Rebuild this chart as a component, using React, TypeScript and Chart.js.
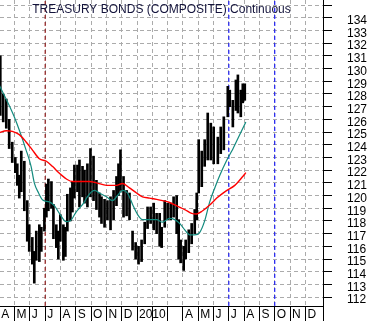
import React, { useEffect, useRef } from 'react';
import { Chart, registerables } from 'chart.js';

Chart.register(...registerables);

const TITLE = 'TREASURY BONDS (COMPOSITE) Continuous';

// x positions are months since 1 Apr 2009
const monthLabels = ['A', 'M', 'J', 'J', 'A', 'S', 'O', 'N', 'D', '2010', '', '', 'A', 'M', 'J', 'J', 'A', 'S', 'O', 'N', 'D'];
const yTickValues = [112, 113, 114, 115, 116, 117, 118, 119, 120, 121, 122, 123, 124, 125, 126, 127, 128, 129, 130, 131, 132, 133, 134, 135];

const barT = [
  0.07, 0.26, 0.46, 0.65, 0.85, 1.05, 1.18, 1.31, 1.44, 1.64, 1.83, 1.96, 2.16, 2.29, 2.42, 2.62, 2.75, 2.95,
  3.08, 3.21, 3.41, 3.54, 3.73, 3.86, 3.99, 4.19, 4.32, 4.45, 4.65, 4.78, 4.91, 5.11, 5.24, 5.44, 5.57, 5.76,
  5.96, 6.16, 6.35, 6.55, 6.68, 6.88, 7.07, 7.27, 7.47, 7.66, 7.79, 7.92, 8.12, 8.32, 8.51, 8.71, 8.91, 9.10,
  9.30, 9.50, 9.69, 9.89, 10.09, 10.28, 10.48, 10.61, 10.81, 11.00, 11.20, 11.39, 11.59, 11.72, 11.85, 12.05,
  12.18, 12.38, 12.57, 12.77, 12.90, 13.03, 13.23, 13.42, 13.62, 13.82, 14.01, 14.28, 14.47, 14.67, 14.93,
  15.06, 15.26, 15.46, 15.59, 15.78, 15.91, 16.04,
];
const barLow = [
  126.3, 125.8, 125.3, 123.7, 122.6, 121.8, 120.8, 119.8, 120.3, 118.8, 116.4, 115.6, 114.6, 113.1, 114.9, 114.8, 115.6, 117.2,
  118.3, 118.8, 119.0, 116.6, 115.9, 115.0, 116.4, 114.9, 115.2, 117.2, 118.0, 118.7, 119.8, 120.3, 119.1, 119.9, 119.4, 119.1,
  119.9, 119.6, 118.9, 118.3, 117.8, 117.5, 118.1, 117.3, 118.1, 119.2, 120.0, 120.4, 118.3, 118.4, 118.1, 115.7, 115.0, 114.6,
  114.8, 116.2, 117.4, 117.8, 117.3, 117.0, 116.0, 115.9, 117.5, 118.1, 118.1, 118.3, 117.0, 115.0, 114.7, 114.1,
  115.0, 115.5, 116.2, 117.0, 118.1, 120.2, 120.7, 122.3, 122.8, 122.8, 122.5, 122.5, 123.3, 123.6, 126.2,
  127.0, 125.4, 126.7, 126.5, 126.2, 127.3, 127.5,
];
const barHigh = [
  131.0, 128.0, 127.6, 126.0, 124.2, 123.0, 122.5, 121.6, 123.5, 122.7, 119.6, 117.7, 116.7, 115.6, 117.2, 117.7, 117.5, 119.0,
  120.9, 121.3, 121.1, 119.3, 117.7, 117.2, 118.5, 117.7, 117.5, 120.1, 120.6, 121.1, 122.4, 122.4, 122.8, 122.3, 122.0, 122.5,
  123.7, 123.1, 121.2, 120.2, 119.9, 119.7, 119.6, 119.9, 120.4, 121.5, 122.5, 123.6, 121.5, 120.4, 120.2, 117.2, 116.3, 116.0,
  116.5, 117.9, 119.1, 119.1, 119.4, 118.6, 118.6, 117.5, 119.6, 119.4, 119.4, 119.9, 120.0, 118.1, 116.5, 116.0,
  116.5, 117.3, 117.8, 118.9, 120.2, 124.4, 123.5, 124.4, 126.5, 125.7, 125.4, 124.6, 125.4, 126.2, 128.6,
  128.3, 127.5, 129.1, 129.5, 128.3, 128.8, 128.8,
];

const fastT = [
  0, 0.98, 1.75, 2.08, 2.29, 2.57, 2.84, 3.27, 3.6, 3.93, 4.37, 4.63, 5.02, 5.57, 5.7, 6.22, 6.55, 7.01, 7.4, 7.73,
  8.06, 8.38, 8.71, 9.04, 9.36, 9.82, 10.28, 10.67, 11.13, 11.46, 11.79, 12.12, 12.44, 12.77, 13.1, 13.42, 13.75,
  14.08, 14.41, 14.87, 15.19, 15.59, 16.11,
];
const fastMA = [
  128.7, 126.2, 123.6, 122.3, 121.0, 120.2, 119.65, 119.5, 119.2, 118.6, 117.95, 118.0, 118.7, 119.5, 119.8, 120.4, 120.2, 119.9, 119.6, 120.0,
  120.4, 120.2, 119.3, 118.5, 118.1, 118.1, 118.1, 117.9, 118.2, 118.1, 117.8, 117.3, 116.9, 116.9, 117.1, 118.0, 119.5,
  120.6, 121.6, 122.8, 123.5, 124.5, 125.8,
];

const slowT = [
  0, 0.46, 0.85, 1.31, 1.77, 2.16, 2.62, 3.08, 3.47, 3.93, 4.39, 4.78, 5.44, 5.89, 6.35, 7.01, 7.66, 8.06, 8.51, 8.97,
  9.36, 9.82, 10.28, 10.67, 11.13, 11.66, 12.12, 12.57, 12.9, 13.29, 13.75, 14.21, 14.8, 15.39, 15.91, 16.11,
];
const slowMA = [
  124.95, 125.1, 125.05, 124.8, 124.2, 123.6, 122.9, 122.7, 122.3, 121.75, 121.3, 121.1, 121.1, 121.1, 121.0, 120.8, 120.8, 120.95, 120.6, 120.2,
  119.9, 119.8, 119.7, 119.6, 119.45, 119.15, 118.9, 118.6, 118.55, 118.8, 119.25, 119.8, 120.35, 120.8, 121.5, 121.8,
];

const markerMonths = [3, 15, 18];
const markerColors = ['#8b0000', '#0000ff', '#0000ff'];

const X_MIN = 0.05;
const X_MAX = 21.15;
const Y_MIN = 111.3;
const Y_MAX = 135.4;

const FONT = '"Liberation Sans", Arial, sans-serif';

const overlayPlugin = {
  id: 'overlay',
  afterDraw(chart: any) {
    const { ctx, chartArea } = chart;
    ctx.save();
    ctx.font = `12px ${FONT}`;
    ctx.fillStyle = '#14143c';
    ctx.textAlign = 'center';
    ctx.textBaseline = 'middle';
    ctx.fillText(TITLE, (chartArea.left + chartArea.right) / 2, 10);
    ctx.strokeStyle = '#000';
    ctx.lineWidth = 1;
    ctx.beginPath();
    ctx.moveTo(Math.round(chartArea.right) + 0.5, chartArea.bottom);
    ctx.lineTo(Math.round(chartArea.right) + 0.5, chart.height);
    ctx.stroke();
    ctx.restore();
  },
};

export default function App() {
  const ref = useRef<HTMLCanvasElement | null>(null);

  useEffect(() => {
    document.body.style.margin = '0';
    const canvas = ref.current;
    if (!canvas) return;

    const bars = barT.map((t, i) => ({ x: t, y: [barLow[i], barHigh[i]] }));
    const fast = fastT.map((t, i) => ({ x: t, y: fastMA[i] }));
    const slow = slowT.map((t, i) => ({ x: t, y: slowMA[i] }));

    const markerSets = markerMonths.map((m, i) => ({
      type: 'line' as const,
      data: [
        { x: m, y: Y_MIN },
        { x: m, y: Y_MAX },
      ],
      borderColor: markerColors[i],
      borderWidth: 1,
      borderDash: [4, 3],
      pointRadius: 0,
      order: 5,
    }));

    const chart = new Chart(canvas, {
      type: 'bar',
      data: {
        datasets: [
          {
            type: 'bar',
            data: bars as any,
            backgroundColor: '#000000',
            borderWidth: 0,
            barThickness: 2,
            order: 3,
          },
          {
            type: 'line',
            data: fast as any,
            borderColor: '#128a7e',
            borderWidth: 1.2,
            pointRadius: 0,
            tension: 0.4,
            cubicInterpolationMode: 'monotone',
            order: 1,
          },
          {
            type: 'line',
            data: slow as any,
            borderColor: '#ff0000',
            borderWidth: 1.4,
            pointRadius: 0,
            tension: 0.4,
            cubicInterpolationMode: 'monotone',
            order: 0,
          },
          ...(markerSets as any[]),
        ],
      },
      options: {
        animation: false,
        responsive: false,
        maintainAspectRatio: false,
        layout: { padding: 0 },
        plugins: {
          legend: { display: false },
          tooltip: { enabled: false },
          title: { display: false },
        },
        scales: {
          x: {
            type: 'linear',
            min: X_MIN,
            max: X_MAX,
            offset: false,
            afterBuildTicks: (scale: any) => {
              scale.ticks = monthLabels.map((_, i) => ({ value: i }));
            },
            afterFit: (scale: any) => {
              scale.height = 15;
              scale.paddingLeft = 0;
              scale.paddingRight = 0;
            },
            grid: {
              offset: false,
              color: '#ababab',
              lineWidth: 1,
              drawTicks: true,
              tickLength: 15,
              tickColor: '#000000',
              tickWidth: 1,
            },
            border: { display: true, color: '#000000', width: 1, dash: [4, 3] },
            ticks: {
              autoSkip: false,
              maxRotation: 0,
              minRotation: 0,
              align: 'start',
              labelOffset: 2,
              padding: -14,
              color: '#000000',
              font: { size: 12, family: FONT },
              callback: (value: any) => monthLabels[Math.round(value)] ?? '',
            },
          },
          y: {
            type: 'linear',
            position: 'right',
            min: Y_MIN,
            max: Y_MAX,
            beginAtZero: false,
            afterBuildTicks: (scale: any) => {
              scale.ticks = yTickValues.map((v) => ({ value: v }));
            },
            afterFit: (scale: any) => {
              scale.width = 48;
              scale.paddingTop = 0;
              scale.paddingBottom = 0;
            },
            grid: {
              color: '#ababab',
              lineWidth: 1,
              drawTicks: true,
              tickLength: 9,
              tickColor: '#000000',
              tickWidth: 1,
            },
            border: { display: true, color: '#000000', width: 1, dash: [4, 3] },
            ticks: {
              autoSkip: false,
              padding: 15,
              labelOffset: 3,
              color: '#000000',
              font: { size: 12, family: FONT },
              callback: (value: any) => (value === 135 ? '' : String(value)),
            },
          },
        },
      } as any,
      plugins: [overlayPlugin],
    });

    return () => chart.destroy();
  }, []);

  return (
    <div style={{ width: 371, height: 321, position: 'relative' }}>
      <canvas ref={ref} width={371} height={321} style={{ display: 'block', width: 371, height: 321 }} />
    </div>
  );
}
